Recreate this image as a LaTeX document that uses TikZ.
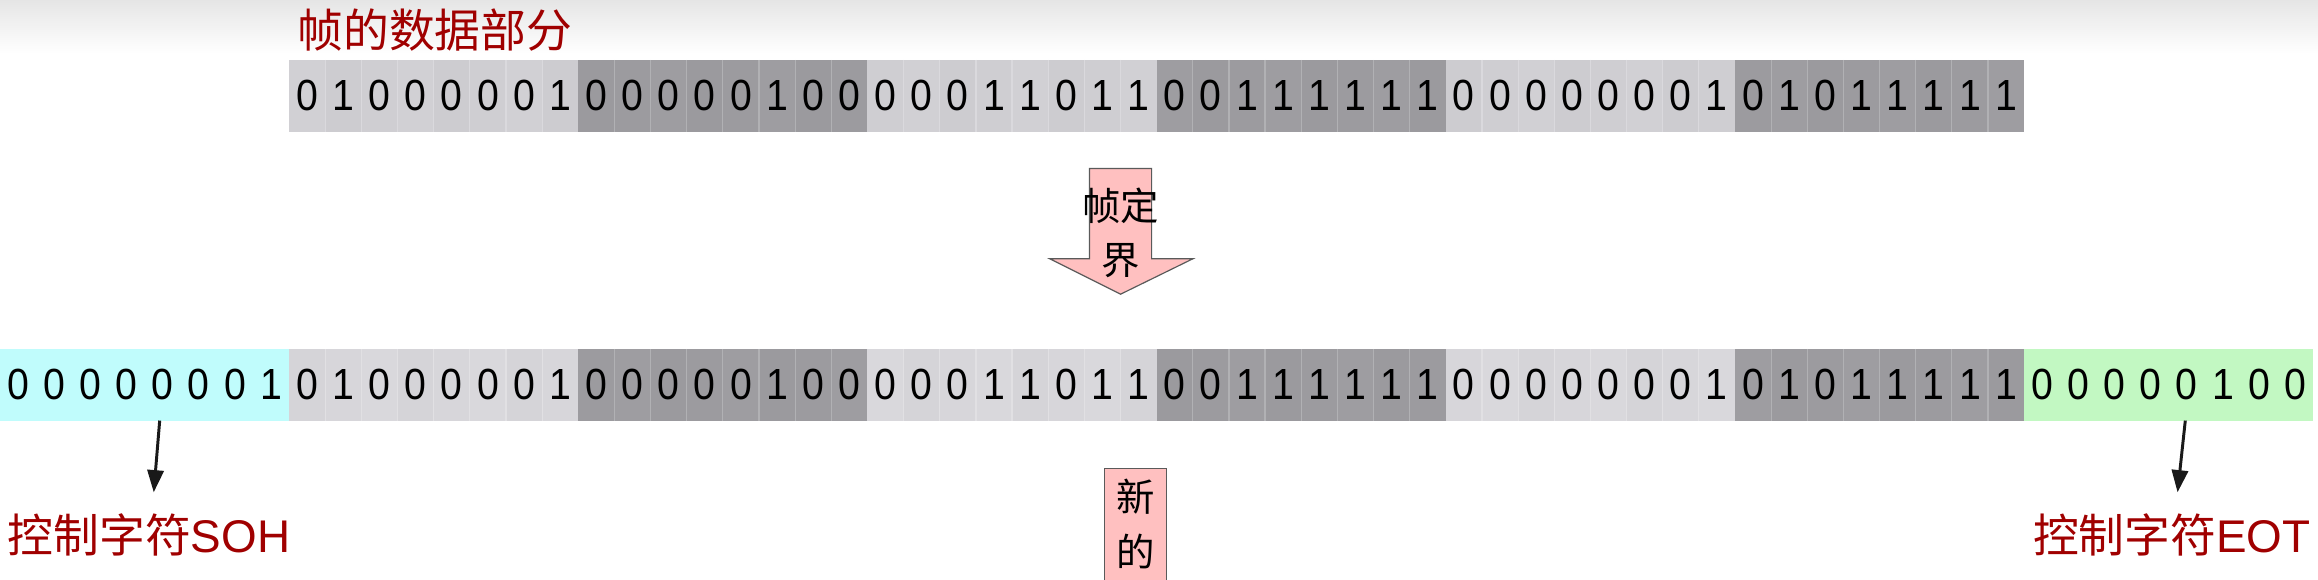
\documentclass[tikz,border=0pt]{standalone}
\usepackage{fontspec}
\setmainfont{Liberation Sans}
\newfontfamily\cjk{Noto Sans CJK SC}
\newfontfamily\digitfont[FakeStretch=0.9]{Liberation Sans}
\usetikzlibrary{arrows.meta,calc}
\definecolor{lightcell}{HTML}{D1D0D4}
\definecolor{lightcellb}{HTML}{D9D8DC}
\definecolor{darkcell}{HTML}{9E9DA1}
\definecolor{sohcol}{HTML}{C0FCFC}
\definecolor{eotcol}{HTML}{C2F8C2}
\definecolor{labred}{HTML}{A00000}
\definecolor{arrowpink}{HTML}{FFC0C0}
\definecolor{arrowedge}{HTML}{5A5A5A}
\begin{document}
\begin{tikzpicture}[x=1pt,y=-1pt,
  bitcell/.style={inner sep=0pt, outer sep=0pt, minimum width=24.45pt,
    minimum height=48.5pt, anchor=north west,
    font=\digitfont\fontsize{29.5}{30}\selectfont, text=black},
  cellsep/.style={line width=0.8pt},
  redlab/.style={text=labred, inner sep=0pt, anchor=base west},
  blocktxt/.style={inner sep=0pt, anchor=base, text=black,
    font=\cjk\fontsize{26}{26}\selectfont},
  blockshape/.style={fill=arrowpink, draw=arrowedge, line width=0.8pt},
  conn/.style={line width=2pt, draw=black!90,
    -{Triangle[width=11pt,length=15pt]}}]
\useasboundingbox (0,0) rectangle (1568,392);
\clip (0,0) rectangle (1568,392);
% top background gradient
\shade[top color=black!10, bottom color=white] (0,0) rectangle (1568,36);
% title
\node[redlab, font=\cjk\fontsize{31}{32}\selectfont] (title) at (201,32) {帧的数据部分};
% top row: frame data
\foreach \i/\bits/\col/\v in {
  0/{0,1,0,0,0,0,0,1}/lightcell/1,
  1/{0,0,0,0,0,1,0,0}/darkcell/1,
  2/{0,0,0,1,1,0,1,1}/lightcell/1,
  3/{0,0,1,1,1,1,1,1}/darkcell/1,
  4/{0,0,0,0,0,0,0,1}/lightcell/1,
  5/{0,1,0,1,1,1,1,1}/darkcell/1}{
  \foreach \b [count=\k from 0] in \bits {
    \pgfmathtruncatemacro\vv{100-\v*mod(\k*5+\i*2,3)}
    \node[bitcell, fill=\col!\vv!black] (t\i-\k)
      at ({195.6+195.6*\i+24.45*\k},40.5) {\b};
    \ifnum\k>0
      \draw[cellsep, draw=\col!80!white] (t\i-\k.north west) -- (t\i-\k.south west);
    \fi
  }
}
% bottom row: framed
\foreach \i/\bits/\col/\v in {
  0/{0,0,0,0,0,0,0,1}/sohcol/0,
  1/{0,1,0,0,0,0,0,1}/lightcellb/1,
  2/{0,0,0,0,0,1,0,0}/darkcell/1,
  3/{0,0,0,1,1,0,1,1}/lightcellb/1,
  4/{0,0,1,1,1,1,1,1}/darkcell/1,
  5/{0,0,0,0,0,0,0,1}/lightcellb/1,
  6/{0,1,0,1,1,1,1,1}/darkcell/1,
  7/{0,0,0,0,0,1,0,0}/eotcol/0}{
  \foreach \b [count=\k from 0] in \bits {
    \pgfmathtruncatemacro\vv{100-\v*mod(\k*5+\i*2,3)}
    \node[bitcell, fill=\col!\vv!black] (b\i-\k)
      at ({195.6*\i+24.45*\k},236) {\b};
    \ifnum\v>0 \ifnum\k>0
      \draw[cellsep, draw=\col!80!white] (b\i-\k.north west) -- (b\i-\k.south west);
    \fi\fi
  }
}
% framing block arrow
\draw[blockshape] (737,114) -- (779,114) -- (779,175) -- (807,175)
  -- (758,199) -- (710,175) -- (737,175) -- cycle;
\node[blocktxt] (fd1) at (758,149) {帧定};
\node[blocktxt] (fd2) at (758,186) {界};
% "new" block (cut off at bottom)
\draw[blockshape] (747,317) rectangle (789,420);
\node[blocktxt] (nw1) at (768,346) {新};
\node[blocktxt] (nw2) at (768,383) {的};
% labels
\node[redlab, font=\fontsize{31}{32}\selectfont] (sohlab) at (5,373.5) {{\cjk 控制字符}SOH};
\node[redlab, font=\fontsize{31}{32}\selectfont] (eotlab) at (1375,373.5) {{\cjk 控制字符}EOT};
% connectors
\coordinate (sohtip) at (104,333);
\coordinate (eottip) at (1473,333);
\draw[conn] ($(b0-4.south)+(-2,0)$) -- (sohtip);
\draw[conn] ($(b7-4.south)+(-1,0)$) -- (eottip);
\end{tikzpicture}
\end{document}
